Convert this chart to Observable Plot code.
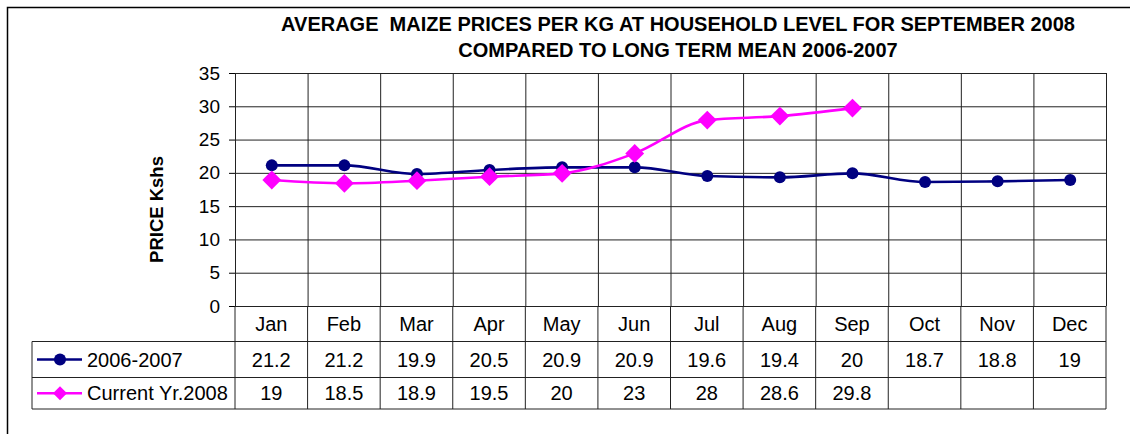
<!DOCTYPE html>
<html>
<head>
<meta charset="utf-8">
<script src="https://cdn.jsdelivr.net/npm/d3@7"></script>
<script src="https://cdn.jsdelivr.net/npm/@observablehq/plot@0.6"></script>
<style>
  html, body { margin: 0; padding: 0; background: #fff; overflow: hidden; }
</style>
</head>
<body>
<div id="chart"></div>
<script>
const months = ["Jan","Feb","Mar","Apr","May","Jun","Jul","Aug","Sep","Oct","Nov","Dec"];
const longTermMean = [21.2, 21.2, 19.9, 20.5, 20.9, 20.9, 19.6, 19.4, 20, 18.7, 18.8, 19];
const current2008 = [19, 18.5, 18.9, 19.5, 20, 23, 28, 28.6, 29.8];
const seriesNames = ["2006-2007", "Current Yr.2008"];
const yTicks = [0, 5, 10, 15, 20, 25, 30, 35];
const titleLines = ["AVERAGE  MAIZE PRICES PER KG AT HOUSEHOLD LEVEL FOR SEPTEMBER 2008",
                    "COMPARED TO LONG TERM MEAN 2006-2007"];
const yLabel = "PRICE Kshs";

const navy = "#000080", magenta = "#ff00ff";
const meanData = longTermMean.map((v, i) => ({m: i + 1, v}));
const curData = current2008.map((v, i) => ({m: i + 1, v}));
const bounds = d3.range(0, 13).map(i => i + 0.5);
const F = '"Liberation Sans", Arial, sans-serif';
const FS = 20;

const chart = Plot.plot({
  width: 1130, height: 434,
  marginTop: 73, marginLeft: 235, marginRight: 24, marginBottom: 128,
  style: {fontFamily: F, fontSize: FS + "px", color: "#000", overflow: "visible"},
  x: {type: "linear", domain: [0.5, 12.5], axis: null},
  y: {domain: [0, 35], axis: null},
  marks: [
    Plot.ruleY(yTicks, {stroke: "#222", strokeWidth: 1}),
    Plot.ruleX(bounds, {y1: 0, y2: 35, stroke: "#222", strokeWidth: 1}),
    Plot.axisY({ticks: yTicks, tickSize: 6, tickPadding: 9.5, fontSize: 19, stroke: "#000", label: null}),
    Plot.line(meanData, {x: "m", y: "v", stroke: navy, strokeWidth: 2.6, curve: "monotone-x"}),
    Plot.line(curData, {x: "m", y: "v", stroke: magenta, strokeWidth: 2.6, curve: "monotone-x"}),
    Plot.dot(meanData, {x: "m", y: "v", fill: navy, r: 6, symbol: "circle"}),
    Plot.dot(curData, {x: "m", y: "v", fill: magenta, r: 8.5, symbol: "diamond2", stroke: null})
  ]
});

const svg = d3.select(chart);
const xs = chart.scale("x").apply;
const ys = chart.scale("y").apply;

function txt(parent, x, y, s, opts = {}) {
  return parent.append("text").attr("x", x).attr("y", y)
    .attr("style", `font-family:${F};font-size:${opts.size || FS}px;font-weight:${opts.bold ? "bold" : "normal"};text-anchor:${opts.anchor || "middle"};fill:#000`)
    .text(s);
}

// outer border
svg.append("rect").attr("x", 7.5).attr("y", 7.5).attr("width", 1140).attr("height", 440)
  .attr("fill", "none").attr("stroke", "#000").attr("stroke-width", 1.5);

// title
titleLines.forEach((t, i) => txt(svg, 678, 31 + i * 26, t, {size: 20, bold: true}));

// y label
{
  const cy = (ys(0) + ys(35)) / 2 + 20;
  svg.append("text")
    .attr("transform", `translate(163,${cy}) rotate(-90)`)
    .attr("style", `font-family:${F};font-size:18.5px;font-weight:bold;text-anchor:middle;fill:#000`)
    .text(yLabel);
}

// data table
const y0 = ys(0), r1 = 341.5, r2 = 377.5, r3 = 409;
const xL = xs(0.5), xR = xs(12.5), tL = 32;
const g = svg.append("g").attr("stroke", "#222").attr("stroke-width", 1);
g.append("line").attr("x1", xL).attr("x2", xR).attr("y1", r1).attr("y2", r1);
[r1, r2, r3].forEach(y => g.append("line").attr("x1", tL).attr("x2", xR).attr("y1", y).attr("y2", y));
g.append("line").attr("x1", tL).attr("x2", tL).attr("y1", r1).attr("y2", r3);
bounds.forEach(b => g.append("line").attr("x1", xs(b)).attr("x2", xs(b)).attr("y1", y0).attr("y2", r3));

const tg = svg.append("g");
months.forEach((m, i) => {
  txt(tg, xs(i + 1), 330.5, m);
  txt(tg, xs(i + 1), 366.5, longTermMean[i]);
  if (i < current2008.length) txt(tg, xs(i + 1), 399.5, current2008[i]);
});

// legend keys in table
const ly1 = (r1 + r2) / 2, ly2 = (r2 + r3) / 2;
svg.append("line").attr("x1", 37).attr("x2", 82).attr("y1", ly1).attr("y2", ly1).attr("stroke", navy).attr("stroke-width", 2.6);
svg.append("circle").attr("cx", 60).attr("cy", ly1).attr("r", 6).attr("fill", navy);
svg.append("line").attr("x1", 37).attr("x2", 82).attr("y1", ly2).attr("y2", ly2).attr("stroke", magenta).attr("stroke-width", 2.6);
svg.append("path").attr("d", `M60,${ly2 - 7}L67,${ly2}L60,${ly2 + 7}L53,${ly2}Z`).attr("fill", magenta);
seriesNames.forEach((s, i) => txt(svg, 87, i ? 399.5 : 366.5, s, {anchor: "start"}));

document.getElementById("chart").appendChild(chart);
</script>
</body>
</html>
